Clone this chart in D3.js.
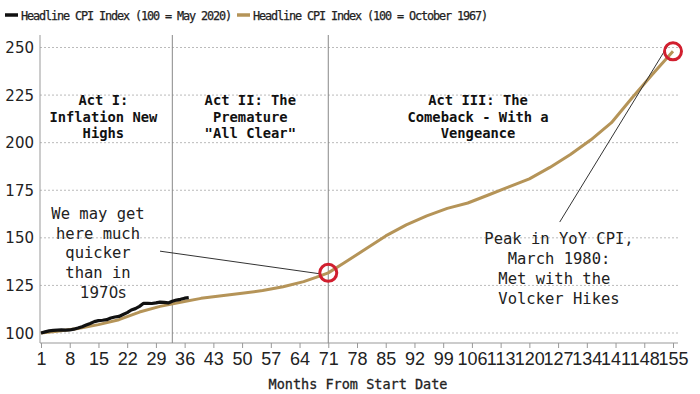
<!DOCTYPE html>
<html>
<head>
<meta charset="utf-8">
<script src="https://cdn.jsdelivr.net/npm/d3@7"></script>
<style>
  body { margin: 0; background: #fff; }
  svg { display: block; }
</style>
</head>
<body>
<div id="chart"></div>
<script>
// black series: 100 = May 2020, monthly from month 1
const recentMonths = [1,2,3,4,5,6,7,8,9,10,11,12,13,14,15,16,17,18,19,20,21,22,23,24,25,26,27,28,29,30,31,32,33,34,35,36,37];
const recentValues = [100.0,100.6,101.1,101.4,101.5,101.6,101.5,101.6,102.0,102.6,103.3,104.2,105.0,106.0,106.5,106.7,107.0,107.9,108.4,108.7,109.7,110.7,112.1,112.8,114.0,115.6,115.6,115.5,115.8,116.2,116.1,115.8,116.7,117.3,117.7,118.3,118.6];

// tan series: 100 = October 1967
const pastMonths = [1,5,10,15,20,25,30,35,40,45,50,55,60,65,68,71,75,80,85,90,95,100,105,110,115,120,125,130,135,140,145,150,155];
const pastValues = [100,100.9,102.4,104.4,107,111,114,116.2,118.2,119.6,120.9,122.3,124.3,127,129.2,131.6,137,144,151,156.8,161.5,165.5,168.3,172.5,176.8,181,187,193.8,201.5,210.5,223.5,236,248];

const xTicks = [1,8,15,22,29,36,43,50,57,64,71,78,85,92,99,106,113,120,127,134,141,148,155];
const yTicks = [100,125,150,175,200,225,250];
const actBreaks = [33, 71];
const seriesNames = ["Headline CPI Index (100 = May 2020)", "Headline CPI Index (100 = October 1967)"];

const width = 700, height = 394;
const plotL = 40, plotR = 678, plotT = 35, plotB = 343;
const black = "#111", tan = "#b59458", red = "#d11f2f";
const mono = "'DejaVu Sans Mono', monospace";
const sans = "'DejaVu Sans', sans-serif";

let x = d3.scaleLinear().domain([1, 155]).range([41, 673]);
let y = d3.scaleLinear().domain([100, 250]).range([333, 47.5]);

let svg = d3.select("#chart").append("svg")
    .attr("width", width)
    .attr("height", height);

// gridlines
svg.append("g").selectAll("line")
    .data(yTicks)
  .enter().append("line")
    .attr("x1", plotL).attr("x2", plotR)
    .attr("y1", d => y(d)).attr("y2", d => y(d))
    .attr("stroke", "#bbb")
    .attr("stroke-dasharray", "2,2");

// y labels
svg.append("g").selectAll("text")
    .data(yTicks)
  .enter().append("text")
    .attr("x", 34)
    .attr("y", d => y(d) + 5.5)
    .attr("text-anchor", "end")
    .style("font-family", sans)
    .style("font-size", "15px")
    .attr("fill", "#222")
    .text(d => d);

// left axis line
svg.append("line")
    .attr("x1", plotL).attr("x2", plotL)
    .attr("y1", plotT).attr("y2", plotB)
    .attr("stroke", "#999");

// x axis
let xAxis = svg.append("g")
    .attr("transform", "translate(0," + plotB + ")")
    .call(d3.axisBottom(x).tickValues(xTicks).tickSize(5).tickSizeOuter(0).tickPadding(4));
xAxis.select(".domain").attr("stroke", "#999").attr("d", "M" + plotL + ",0H" + plotR);
xAxis.selectAll(".tick line").attr("stroke", "#999");
xAxis.selectAll(".tick text")
    .style("font-family", "'Liberation Sans', sans-serif")
    .style("font-size", "18px")
    .attr("fill", "#222");

svg.append("text")
    .attr("x", 358)
    .attr("y", 389)
    .attr("text-anchor", "middle")
    .style("font-family", mono)
    .style("font-size", "13.5px")
    .attr("fill", "#222")
    .attr("stroke", "#222")
    .attr("stroke-width", 0.3)
    .text("Months From Start Date");

// act dividers
svg.append("g").selectAll("line")
    .data(actBreaks)
  .enter().append("line")
    .attr("x1", d => x(d)).attr("x2", d => x(d))
    .attr("y1", plotT).attr("y2", plotB)
    .attr("stroke", "#888");

// act labels
const acts = [
  { m: 16.2, lines: ["Act I:", "Inflation New", "Highs"] },
  { m: 52, lines: ["Act II: The", "Premature", "\"All Clear\""] },
  { m: 107.5, lines: ["Act III: The", "Comeback - With a", "Vengeance"] }
];
acts.forEach(function(a) {
  let t = svg.append("text")
      .attr("text-anchor", "middle")
      .style("font-family", mono)
      .style("font-size", "13.8px")
      .style("font-weight", "bold")
      .attr("fill", "#111");
  a.lines.forEach(function(s, i) {
    t.append("tspan").attr("x", x(a.m)).attr("y", 105 + i * 16.5).text(s);
  });
});

// lines
let line = d3.line()
    .x(d => x(d[0]))
    .y(d => y(d[1]));

svg.append("path")
    .datum(d3.zip(pastMonths, pastValues))
    .attr("d", line)
    .attr("fill", "none")
    .attr("stroke", tan)
    .attr("stroke-width", 3)
    .attr("stroke-linejoin", "round");

svg.append("path")
    .datum(d3.zip(recentMonths, recentValues))
    .attr("d", line)
    .attr("fill", "none")
    .attr("stroke", black)
    .attr("stroke-width", 3.2)
    .attr("stroke-linejoin", "round");

// highlighted points
const m71 = pastMonths.indexOf(71), mEnd = pastMonths.length - 1;
const marks = [[71, pastValues[m71]], [155, pastValues[mEnd]]];

// leader lines
svg.append("line")
    .attr("x1", x(30)).attr("y1", y(143))
    .attr("x2", x(71) - 8).attr("y2", y(pastValues[m71]) + 1)
    .attr("stroke", "#333");
svg.append("line")
    .attr("x1", x(127.4)).attr("y1", y(158.3))
    .attr("x2", x(155) - 5).attr("y2", y(pastValues[mEnd]) - 6)
    .attr("stroke", "#333");

svg.append("g").selectAll("circle")
    .data(marks)
  .enter().append("circle")
    .attr("cx", d => x(d[0]))
    .attr("cy", d => y(d[1]))
    .attr("r", 8.5)
    .attr("fill", "none")
    .attr("stroke", red)
    .attr("stroke-width", 3);

// annotations
let note1 = svg.append("text")
    .attr("text-anchor", "middle")
    .style("font-family", mono)
    .style("font-size", "15.5px")
    .attr("fill", "#222");
["We may get", "here much", "quicker", "than in"].forEach(function(s, i) {
  note1.append("tspan").attr("x", 98).attr("y", 219 + i * 19.7).text(s);
});
note1.append("tspan").attr("x", 103).attr("y", 219 + 4 * 19.7)
    .style("font-family", sans).style("font-size", "15px").text("1970s");

let note2 = svg.append("text")
    .attr("text-anchor", "middle")
    .style("font-family", mono)
    .style("font-size", "15.5px")
    .attr("fill", "#222")
    .style("white-space", "pre");
["Peak in YoY CPI,", "March 1980:", "Met with the ", "Volcker Hikes"].forEach(function(s, i) {
  note2.append("tspan").attr("x", 559).attr("y", 244 + i * 20).text(s);
});

// legend
const legendX = [5, 237];
const legendColors = [black, tan];
seriesNames.forEach(function(name, i) {
  svg.append("line")
      .attr("x1", legendX[i]).attr("x2", legendX[i] + 13)
      .attr("y1", 15).attr("y2", 15)
      .attr("stroke", legendColors[i])
      .attr("stroke-width", 3.5);
  svg.append("text")
      .attr("x", legendX[i] + 16)
      .attr("y", 19.5)
      .style("font-family", mono)
      .style("font-size", "11.8px")
      .style("letter-spacing", "-1.1px")
      .attr("fill", "#222")
      .attr("stroke", "#222")
      .attr("stroke-width", 0.25)
      .text(name);
});
</script>
</body>
</html>
